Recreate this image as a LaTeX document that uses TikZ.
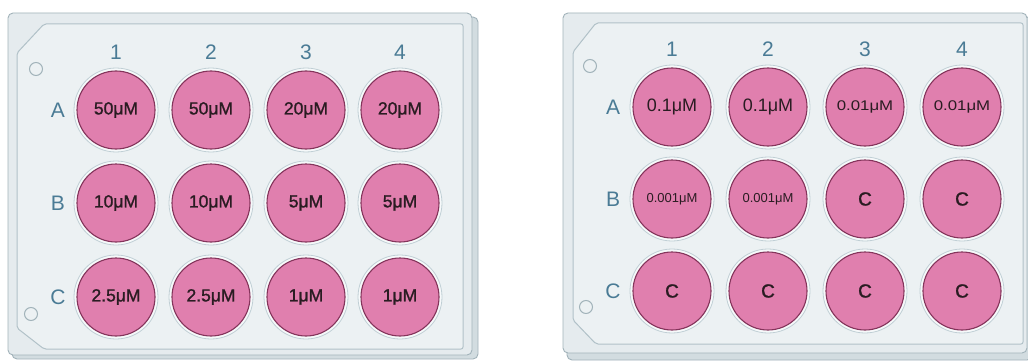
\documentclass[tikz,border=0pt]{standalone}
\usepackage{fontspec}
\setmainfont{Liberation Sans}
\newfontfamily\widesans[FakeStretch=1.2]{Liberation Sans}
\newfontfamily\medsans[FakeBold=1.3]{Liberation Sans}

\definecolor{platebody}{HTML}{E5EBEE}
\definecolor{plateedge}{HTML}{A2B3BA}
\definecolor{plateside}{HTML}{D2DCE0}
\definecolor{panelfill}{HTML}{ECF1F3}
\definecolor{paneledge}{HTML}{B1C1C8}
\definecolor{haloring}{HTML}{C0CFD5}
\definecolor{halofill}{HTML}{F6F9FA}
\definecolor{wellpink}{HTML}{E07FAE}
\definecolor{wellrim}{HTML}{84345B}
\definecolor{labblue}{HTML}{4A7B95}
\definecolor{welltext}{HTML}{2A1C22}

\tikzset{
  platefront/.style={fill=platebody, draw=plateedge, line width=0.9pt, rounded corners=5pt},
  plateback/.style={fill=plateside, draw=plateedge, line width=0.9pt, rounded corners=5pt},
  platepanel/.style={fill=panelfill, draw=paneledge, line width=1pt, rounded corners=2pt},
  hole/.style={draw=plateedge, line width=1pt},
  halo/.style={fill=halofill, draw=haloring, line width=0.8pt},
  well/.style={circle, minimum size=78pt, inner sep=0pt, fill=wellpink, draw=wellrim,
    line width=1.1pt, text=welltext},
  lab/.style={text=labblue, font=\fontsize{21}{21}\selectfont, inner sep=0pt},
  tbig/.style={font=\medsans\fontsize{17.5}{17.5}\selectfont},
  tmid/.style={font=\fontsize{18}{18}\selectfont},
  tsmall/.style={font=\widesans\fontsize{14}{14}\selectfont},
  ttiny/.style={font=\fontsize{13}{13}\selectfont},
  tctrl/.style={font=\medsans\fontsize{19}{19}\selectfont},
}

% one well: name, x, y, text style, text
\newcommand\platewell[5]{%
  \draw[halo] (#2,#3) circle (42);
  \node[well,#4] (#1) at (#2,#3) {#5};}

\begin{document}
\begin{tikzpicture}[x=1pt, y=-1pt]
\useasboundingbox (0,0) rectangle (1028,361);
\clip (0,0) rectangle (1028,361);
\fill[white] (0,0) rectangle (1028,361);

% ---------- left plate ----------
\draw[plateback] (12,17) rectangle (478,359);
\draw[platefront] (8,13) rectangle (472,355);
\draw[platepanel] (17,53) -- (44,24) -- (463,24) -- (463,349) -- (44,349) -- (17,328) -- cycle;
\draw[hole] (36,69) circle (6.5);
\draw[hole] (31,314) circle (6.5);

\node[lab] (L-c1) at (116,52) {1};
\node[lab] (L-c2) at (211,52) {2};
\node[lab] (L-c3) at (306,52) {3};
\node[lab] (L-c4) at (400,52) {4};
\node[lab] (L-rA) at (58,110) {A};
\node[lab] (L-rB) at (58,203) {B};
\node[lab] (L-rC) at (58,297) {C};

\platewell{L-A1}{116}{110}{tbig}{50μM}
\platewell{L-A2}{211}{110}{tbig}{50μM}
\platewell{L-A3}{306}{110}{tbig}{20μM}
\platewell{L-A4}{400}{110}{tbig}{20μM}
\platewell{L-B1}{116}{203}{tbig}{10μM}
\platewell{L-B2}{211}{203}{tbig}{10μM}
\platewell{L-B3}{306}{203}{tbig}{5μM}
\platewell{L-B4}{400}{203}{tbig}{5μM}
\platewell{L-C1}{116}{297}{tbig}{2.5μM}
\platewell{L-C2}{211}{297}{tbig}{2.5μM}
\platewell{L-C3}{306}{297}{tbig}{1μM}
\platewell{L-C4}{400}{297}{tbig}{1μM}

% ---------- right plate ----------
\draw[plateback] (567,17) rectangle (1032,360);
\draw[platefront] (563,13) rectangle (1027,353);
\draw[platepanel] (573,52) -- (596,23) -- (1023,23) -- (1023,344) -- (596,344) -- (573,320) -- cycle;
\draw[hole] (590,66) circle (6.5);
\draw[hole] (586,307) circle (6.5);

\node[lab] (R-c1) at (672,49) {1};
\node[lab] (R-c2) at (768,49) {2};
\node[lab] (R-c3) at (865,49) {3};
\node[lab] (R-c4) at (962,49) {4};
\node[lab] (R-rA) at (613,107) {A};
\node[lab] (R-rB) at (613,199) {B};
\node[lab] (R-rC) at (613,291) {C};

\platewell{R-A1}{672}{107}{tmid}{0.1μM}
\platewell{R-A2}{768}{107}{tmid}{0.1μM}
\platewell{R-A3}{865}{107}{tsmall}{0.01μM}
\platewell{R-A4}{962}{107}{tsmall}{0.01μM}
\platewell{R-B1}{672}{199}{ttiny}{0.001μM}
\platewell{R-B2}{768}{199}{ttiny}{0.001μM}
\platewell{R-B3}{865}{199}{tctrl}{C}
\platewell{R-B4}{962}{199}{tctrl}{C}
\platewell{R-C1}{672}{291}{tctrl}{C}
\platewell{R-C2}{768}{291}{tctrl}{C}
\platewell{R-C3}{865}{291}{tctrl}{C}
\platewell{R-C4}{962}{291}{tctrl}{C}
\end{tikzpicture}
\end{document}
